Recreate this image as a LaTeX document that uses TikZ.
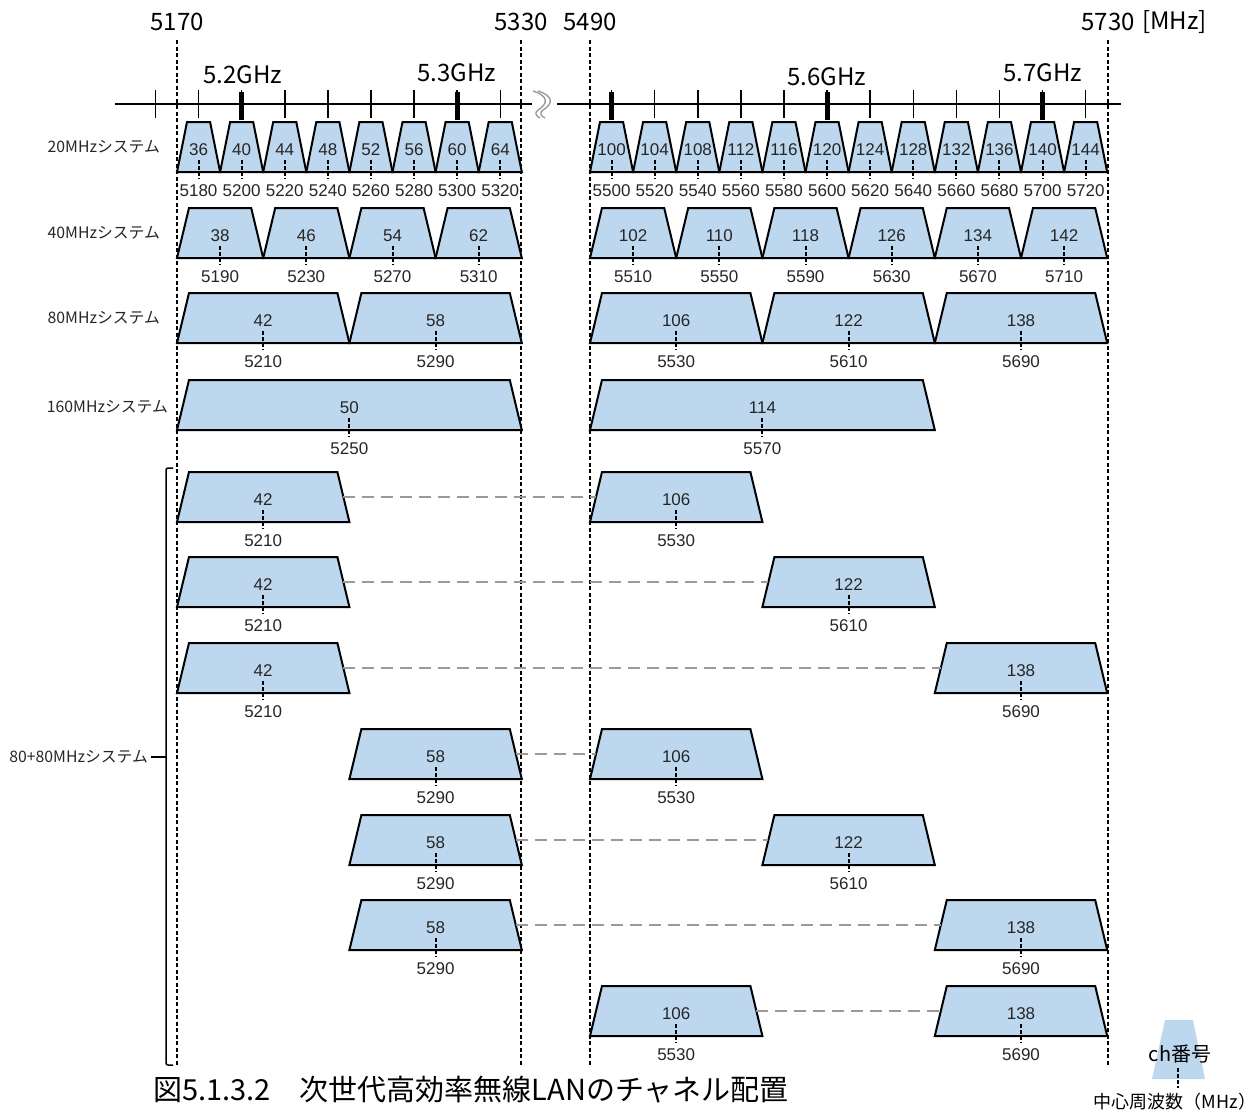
\documentclass[tikz,border=0pt]{standalone}
\usepackage{fontspec}
\setmainfont{Liberation Sans}
\newfontfamily\jpfont{Noto Sans CJK JP}
\usepackage{tikz}
\definecolor{chblue}{HTML}{BDD7EE}
\definecolor{linkgray}{HTML}{9A9A9A}
\definecolor{inkgray}{HTML}{262626}

% one channel: name, ch number, bandwidth [MHz], top y
\newcommand{\chbox}[4]{%
  \pgfmathtruncatemacro{\fc}{5000+5*#2}%
  \pgfmathsetmacro{\cx}{fx(\fc)}%
  \pgfmathsetmacro{\hw}{#3*1.0775}%
  \pgfmathsetmacro{\ins}{#3<30 ? 10 : 12}%
  \filldraw[chan] (\cx-\hw,#4+50) -- (\cx-\hw+\ins,#4) -- (\cx+\hw-\ins,#4) -- (\cx+\hw,#4+50) -- cycle;
  \draw[ctick] (\cx,#4+38) -- (\cx,#4+57);
  \node[chnum] (#1) at (\cx,#4+28) {#2};
  \node[chfreq] (#1-f) at (\cx,#4+69) {\fc};
  \coordinate (#1-w) at (\cx-\hw+\ins/2,#4+25);
  \coordinate (#1-e) at (\cx+\hw-\ins/2,#4+25);
}

\begin{document}
\begin{tikzpicture}[x=1pt, y=-1pt,
  declare function={fx(\f)=(\f<5400) ? (177+(\f-5170)*2.155) : (590+(\f-5490)*2.155);},
  chan/.style={draw=black, fill=chblue, line width=2pt},
  chnum/.style={font=\fontsize{17}{19}\selectfont, text=inkgray, inner sep=0pt},
  chfreq/.style={font=\fontsize{17}{19}\selectfont, text=inkgray, inner sep=0pt},
  ctick/.style={line width=2pt, dash pattern=on 4pt off 2pt},
  bound/.style={line width=1.2pt, dash pattern=on 4pt off 2.5pt},
  link/.style={draw=linkgray, line width=2pt, dash pattern=on 12pt off 7pt},
  axisline/.style={line width=2.5pt},
  tickm/.style={line width=1.5pt},
  tickb/.style={line width=5pt},
  brk/.style={draw=linkgray, line width=1.4pt},
  toplbl/.style={font=\jpfont\fontsize{24}{28}\selectfont, inner sep=0pt},
  rowlbl/.style={font=\jpfont\fontsize{15.8}{18}\selectfont, text=inkgray, anchor=east, inner sep=0pt},
  caption/.style={font=\jpfont\fontsize{29}{32}\selectfont, inner sep=0pt}
]
\useasboundingbox (0,0) rectangle (1259,1111);

% band edges
\node[toplbl] (l5170) at (177,22) {5170};
\node[toplbl] (l5330) at (521,22) {5330};
\node[toplbl] (l5490) at (590,22) {5490};
\node[toplbl] (l5730) at (1108,22) {5730};
\node[toplbl, anchor=west, xshift=7pt] (unit) at (l5730.east) {[MHz]};
\foreach \x in {177,521,590,1108}
  \draw[bound] (\x,40) -- (\x,1065);

% frequency axis
\draw[axisline] (115,104) -- (532,104);
\draw[axisline] (557,104) -- (1121,104);
\foreach \dx in {0,5}
  \draw[brk] (533+\dx,91) .. controls (549+\dx,96) and (548+\dx,104) .. (538+\dx,110)
             .. controls (534+\dx,113) and (536+\dx,116) .. (540+\dx,118);
\foreach \f in {5160,5180,...,5320,5500,5520,...,5720} {
  \pgfmathsetmacro{\tx}{fx(\f)}
  \draw[tickm] (\tx,90) -- (\tx,118);
}
\foreach \f in {5200,5300,5500,5600,5700} {
  \pgfmathsetmacro{\tx}{fx(\f)}
  \draw[tickb] (\tx,92) -- (\tx,120);
}
\node[toplbl] (g52) at (243,75) {5.2GHz};
\node[toplbl] (g53) at (457,73) {5.3GHz};
\node[toplbl] (g56) at (827,77) {5.6GHz};
\node[toplbl] (g57) at (1043,73) {5.7GHz};

% row labels
\node[rowlbl] (l20)  at (160,147) {20MHzシステム};
\node[rowlbl] (l40)  at (160,233) {40MHzシステム};
\node[rowlbl] (l80)  at (160,318) {80MHzシステム};
\node[rowlbl] (l160) at (168,407) {160MHzシステム};
\node[rowlbl] (l8080) at (148,757) {80+80MHzシステム};
\draw[line width=1.5pt, rounded corners=2pt] (173,468) -- (166,468) -- (166,1065) -- (173,1065);
\draw[line width=1.5pt] (l8080.east) ++(3pt,0) -- (166,757);

% single channels
\foreach \n in {36,40,...,64,100,104,...,144} {
  \chbox{c20-\n}{\n}{20}{122}
}
\foreach \n in {38,46,...,62,102,110,...,142} {
  \chbox{c40-\n}{\n}{40}{208}
}
\foreach \n in {42,58,106,122,138} {
  \chbox{c80-\n}{\n}{80}{293}
}
\foreach \n in {50,114} {
  \chbox{c160-\n}{\n}{160}{380}
}

% 80+80 pairs
\foreach \ty/\a/\b [count=\i] in {472/42/106, 557/42/122, 643/42/138, 729/58/106,
                                  815/58/122, 900/58/138, 986/106/138} {
  \chbox{p\i-l}{\a}{80}{\ty}
  \chbox{p\i-r}{\b}{80}{\ty}
  \draw[link] (p\i-l-e) -- (p\i-r-w);
}

% legend
\fill[chblue] (1152,1079) -- (1165,1020) -- (1193,1020) -- (1205,1079) -- cycle;
\node[font=\jpfont\fontsize{20}{22}\selectfont, inner sep=0pt] (lgch) at (1180,1054) {ch番号};
\draw[ctick] (1178,1068) -- (1178,1088);
\node[font=\jpfont\fontsize{18}{20}\selectfont, inner sep=0pt] (lgfc) at (1175,1102) {中心周波数（MHz）};

% caption
\node[caption] (cap) at (471,1090) {図5.1.3.2　次世代高効率無線LANのチャネル配置};
\end{tikzpicture}
\end{document}
